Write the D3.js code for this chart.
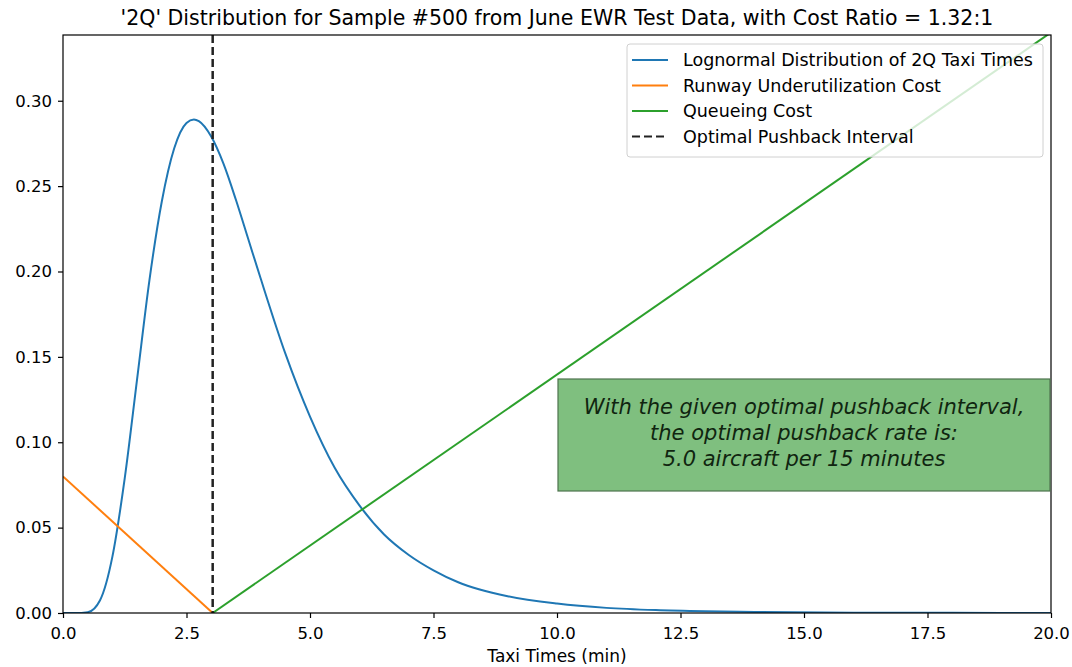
<!DOCTYPE html>
<html>
<head>
<meta charset="utf-8">
<script src="https://cdn.jsdelivr.net/npm/d3@7"></script>
<style>
  body { margin: 0; background: #fff; }
  text { font-family: "DejaVu Sans", sans-serif; }
</style>
</head>
<body>
<svg id="chart" width="1072" height="667"></svg>
<script>
// values
var taxiTimes = [0, 0.25, 0.5, 0.75, 1.0, 1.25, 1.5, 1.75, 2.0, 2.25, 2.5, 2.65, 2.75, 3.0, 3.25, 3.5, 3.75,
    4.0, 4.5, 5.0, 5.5, 6.0, 6.5, 7.0, 7.5, 8.0, 9.0, 10, 11, 12, 13, 14, 16, 18, 20];
var density = [0, 0, 0.0005, 0.0075, 0.033, 0.079, 0.137, 0.195, 0.241, 0.272, 0.287, 0.289, 0.288, 0.279, 0.263, 0.242, 0.219,
    0.196, 0.152, 0.115, 0.085, 0.063, 0.046, 0.034, 0.025, 0.018, 0.0098, 0.0055, 0.003, 0.0017, 0.001, 0.0006, 0.0002, 0.0001, 0];
var optimalInterval = 3.03;
var underutilX = [0, optimalInterval];
var underutilY = [0.08, 0];
var queueX = [optimalInterval, 20];
var queueY = [0, 0.34];
var xTicks = [0, 2.5, 5, 7.5, 10, 12.5, 15, 17.5, 20];
var yTicks = [0, 0.05, 0.10, 0.15, 0.20, 0.25, 0.30];
var legendLabels = ["Lognormal Distribution of 2Q Taxi Times", "Runway Underutilization Cost",
    "Queueing Cost", "Optimal Pushback Interval"];
var noteLines = ["With the given optimal pushback interval,", "the optimal pushback rate is:",
    "5.0 aircraft per 15 minutes"];

var svg = d3.select("#chart");
var margin = {left: 63, right: 21, top: 35, bottom: 54};
var width = 1072 - margin.left - margin.right;
var height = 667 - margin.top - margin.bottom;

var x = d3.scaleLinear().domain([0, 20]).range([0, width]);
var y = d3.scaleLinear().domain([0, 0.3385]).range([height, 0]);

var g = svg.append("g").attr("transform", "translate(" + margin.left + "," + margin.top + ")");

g.append("clipPath").attr("id", "plotclip")
    .append("rect").attr("width", width).attr("height", height);

var plot = g.append("g").attr("clip-path", "url(#plotclip)");

var line = d3.line()
    .x(function (d) { return x(d[0]); })
    .y(function (d) { return y(d[1]); });

plot.append("path")
    .datum(d3.zip(taxiTimes, density))
    .attr("d", line.curve(d3.curveMonotoneX))
    .attr("fill", "none")
    .attr("stroke", "#1f77b4")
    .attr("stroke-width", 2);

line.curve(d3.curveLinear);

plot.append("path")
    .datum(d3.zip(underutilX, underutilY))
    .attr("d", line)
    .attr("fill", "none")
    .attr("stroke", "#ff7f0e")
    .attr("stroke-width", 2);

plot.append("path")
    .datum(d3.zip(queueX, queueY))
    .attr("d", line)
    .attr("fill", "none")
    .attr("stroke", "#2ca02c")
    .attr("stroke-width", 2);

plot.append("line")
    .attr("x1", x(optimalInterval)).attr("x2", x(optimalInterval))
    .attr("y1", 0).attr("y2", height)
    .attr("stroke", "#222")
    .attr("stroke-width", 2.5)
    .attr("stroke-dasharray", "8,4");

// axes
var xAxis = g.append("g")
    .attr("transform", "translate(0," + height + ")")
    .call(d3.axisBottom(x).tickValues(xTicks).tickFormat(d3.format(".1f")).tickSizeOuter(0).tickSize(5));
var yAxis = g.append("g")
    .call(d3.axisLeft(y).tickValues(yTicks).tickFormat(d3.format(".2f")).tickSizeOuter(0).tickSize(5));

[xAxis, yAxis].forEach(function (ax) {
    ax.select(".domain").remove();
    ax.selectAll(".tick line").attr("stroke", "#000").attr("stroke-width", 1.2);
    ax.selectAll(".tick text")
        .attr("fill", "#000")
        .attr("font-size", 16.5)
        .attr("font-family", "DejaVu Sans, sans-serif");
});
xAxis.selectAll(".tick text").attr("dy", "1.09em");
yAxis.selectAll(".tick text").attr("x", -11);

// frame
g.append("rect")
    .attr("width", width).attr("height", height)
    .attr("fill", "none")
    .attr("stroke", "#000")
    .attr("stroke-width", 1.2);

// title and axis label
svg.append("text")
    .attr("x", margin.left + width / 2).attr("y", 25)
    .attr("text-anchor", "middle")
    .attr("font-size", 20.5)
    .attr("fill", "#000")
    .text("'2Q' Distribution for Sample #500 from June EWR Test Data, with Cost Ratio = 1.32:1");

svg.append("text")
    .attr("x", margin.left + width / 2).attr("y", 662)
    .attr("text-anchor", "middle")
    .attr("font-size", 17)
    .attr("fill", "#000")
    .text("Taxi Times (min)");

// legend
var legend = g.append("g").attr("transform", "translate(564,9)");
legend.append("rect")
    .attr("width", 416).attr("height", 113)
    .attr("rx", 3)
    .attr("fill", "#fff").attr("fill-opacity", 0.8)
    .attr("stroke", "#d0d0d0");

var legendStyles = [
    {color: "#1f77b4", dash: null},
    {color: "#ff7f0e", dash: null},
    {color: "#2ca02c", dash: null},
    {color: "#222", dash: "8,4"}
];

var items = legend.selectAll("g.item")
    .data(legendLabels)
    .enter().append("g")
    .attr("class", "item")
    .attr("transform", function (d, i) { return "translate(0," + (16 + i * 25.5) + ")"; });

items.append("line")
    .attr("x1", 5).attr("x2", 41)
    .attr("stroke", function (d, i) { return legendStyles[i].color; })
    .attr("stroke-width", 2)
    .attr("stroke-dasharray", function (d, i) { return legendStyles[i].dash; });

items.append("text")
    .attr("x", 56).attr("dy", "0.35em")
    .attr("font-size", 17.5)
    .attr("fill", "#000")
    .text(function (d) { return d; });

// annotation box
var note = g.append("g").attr("transform", "translate(495,344)");
note.append("rect")
    .attr("width", 492).attr("height", 112)
    .attr("fill", "#7fbf7f")
    .attr("stroke", "#4d734d")
    .attr("stroke-width", 1.2);
note.selectAll("text")
    .data(noteLines)
    .enter().append("text")
    .attr("x", 246)
    .attr("y", function (d, i) { return 28 + i * 26; })
    .attr("dy", "0.35em")
    .attr("text-anchor", "middle")
    .attr("font-size", 21)
    .attr("font-style", "italic")
    .attr("fill", "#102510")
    .text(function (d) { return d; });
</script>
</body>
</html>
